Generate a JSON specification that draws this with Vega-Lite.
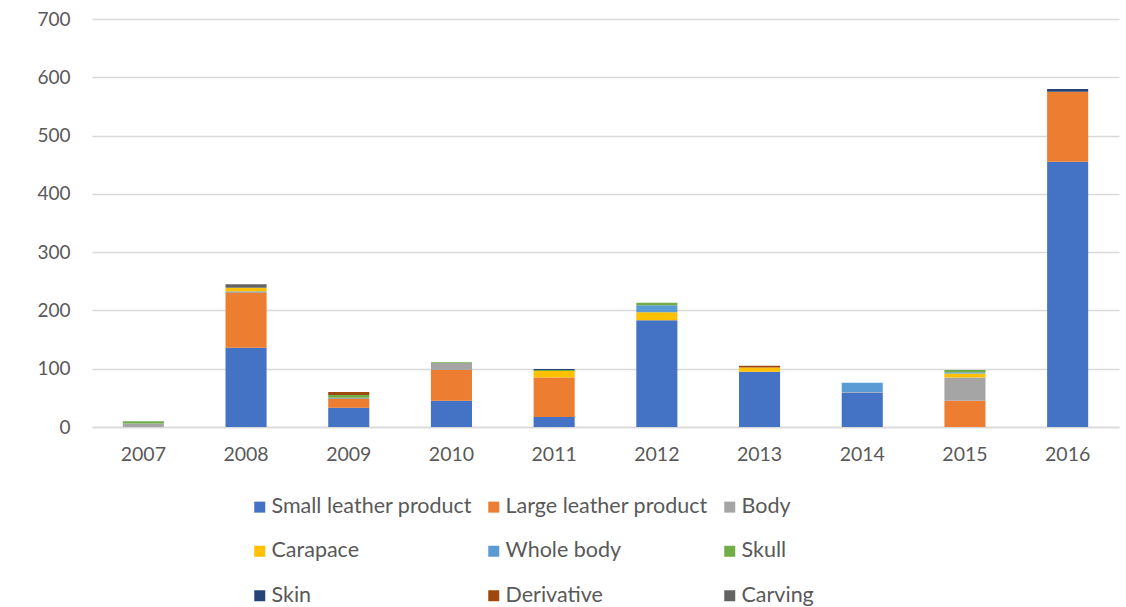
{
  "$schema": "https://vega.github.io/schema/vega-lite/v6.json",
  "autosize": "none",
  "width": 1027,
  "height": 408,
  "padding": {"left": 92, "top": 19, "right": 7, "bottom": 180},
  "background": "white",
  "config": {
    "view": {"stroke": null},
    "font": "Lato"
  },
  "data": {
    "values": [
      {"year": "2007", "type": "Body", "k": 2, "value": 6},
      {"year": "2007", "type": "Skull", "k": 5, "value": 4},
      {"year": "2008", "type": "Small leather product", "k": 0, "value": 136},
      {"year": "2008", "type": "Large leather product", "k": 1, "value": 94},
      {"year": "2008", "type": "Body", "k": 2, "value": 3},
      {"year": "2008", "type": "Carapace", "k": 3, "value": 6},
      {"year": "2008", "type": "Carving", "k": 8, "value": 6},
      {"year": "2009", "type": "Small leather product", "k": 0, "value": 33},
      {"year": "2009", "type": "Large leather product", "k": 1, "value": 15},
      {"year": "2009", "type": "Body", "k": 2, "value": 2},
      {"year": "2009", "type": "Skull", "k": 5, "value": 5},
      {"year": "2009", "type": "Derivative", "k": 7, "value": 5},
      {"year": "2010", "type": "Small leather product", "k": 0, "value": 45},
      {"year": "2010", "type": "Large leather product", "k": 1, "value": 53},
      {"year": "2010", "type": "Body", "k": 2, "value": 12},
      {"year": "2010", "type": "Skull", "k": 5, "value": 1},
      {"year": "2011", "type": "Small leather product", "k": 0, "value": 17},
      {"year": "2011", "type": "Large leather product", "k": 1, "value": 68},
      {"year": "2011", "type": "Carapace", "k": 3, "value": 11},
      {"year": "2011", "type": "Skull", "k": 5, "value": 2},
      {"year": "2011", "type": "Skin", "k": 6, "value": 1.5},
      {"year": "2012", "type": "Small leather product", "k": 0, "value": 183},
      {"year": "2012", "type": "Carapace", "k": 3, "value": 14},
      {"year": "2012", "type": "Whole body", "k": 4, "value": 12},
      {"year": "2012", "type": "Skull", "k": 5, "value": 4},
      {"year": "2013", "type": "Small leather product", "k": 0, "value": 95},
      {"year": "2013", "type": "Carapace", "k": 3, "value": 7},
      {"year": "2013", "type": "Derivative", "k": 7, "value": 3},
      {"year": "2014", "type": "Small leather product", "k": 0, "value": 59},
      {"year": "2014", "type": "Body", "k": 2, "value": 1},
      {"year": "2014", "type": "Whole body", "k": 4, "value": 16},
      {"year": "2015", "type": "Large leather product", "k": 1, "value": 45},
      {"year": "2015", "type": "Body", "k": 2, "value": 40},
      {"year": "2015", "type": "Carapace", "k": 3, "value": 7},
      {"year": "2015", "type": "Whole body", "k": 4, "value": 2},
      {"year": "2015", "type": "Skull", "k": 5, "value": 4},
      {"year": "2016", "type": "Small leather product", "k": 0, "value": 455},
      {"year": "2016", "type": "Large leather product", "k": 1, "value": 120},
      {"year": "2016", "type": "Skin", "k": 6, "value": 5}
    ]
  },
  "mark": {"type": "bar"},
  "encoding": {
    "x": {
      "field": "year",
      "type": "ordinal",
      "scale": {"paddingInner": 0.6, "paddingOuter": 0.3},
      "axis": {
        "title": null,
        "labelAngle": 0,
        "labelFontSize": 19.5,
        "labelColor": "#595959",
        "labelPadding": 18,
        "ticks": false,
        "domainColor": "#d9d9d9",
        "domainWidth": 1.5
      }
    },
    "y": {
      "field": "value",
      "type": "quantitative",
      "stack": "zero",
      "scale": {"domain": [0, 700]},
      "axis": {
        "title": null,
        "values": [0, 100, 200, 300, 400, 500, 600, 700],
        "labelFontSize": 19,
        "labelColor": "#595959",
        "labelPadding": 22,
        "ticks": false,
        "domain": false,
        "gridColor": "#d9d9d9",
        "gridWidth": 1.5
      }
    },
    "color": {
      "field": "type",
      "type": "nominal",
      "sort": ["Small leather product", "Large leather product", "Body", "Carapace", "Whole body", "Skull", "Skin", "Derivative", "Carving"],
      "scale": {
        "domain": ["Small leather product", "Large leather product", "Body", "Carapace", "Whole body", "Skull", "Skin", "Derivative", "Carving"],
        "range": ["#4472C4", "#ED7D31", "#A5A5A5", "#FFC000", "#5B9BD5", "#70AD47", "#264478", "#9E480E", "#636363"]
      },
      "legend": {
        "title": null,
        "orient": "none",
        "legendX": 157,
        "legendY": 477,
        "direction": "horizontal",
        "columns": 3,
        "symbolType": "square",
        "symbolSize": 121,
        "symbolStrokeWidth": 0,
        "labelFontSize": 21.5,
        "labelColor": "#595959",
        "labelOffset": 1,
        "columnPadding": 11,
        "rowPadding": 21.5,
        "labelLimit": 400
      }
    },
    "order": {"field": "k", "type": "quantitative"}
  }
}
